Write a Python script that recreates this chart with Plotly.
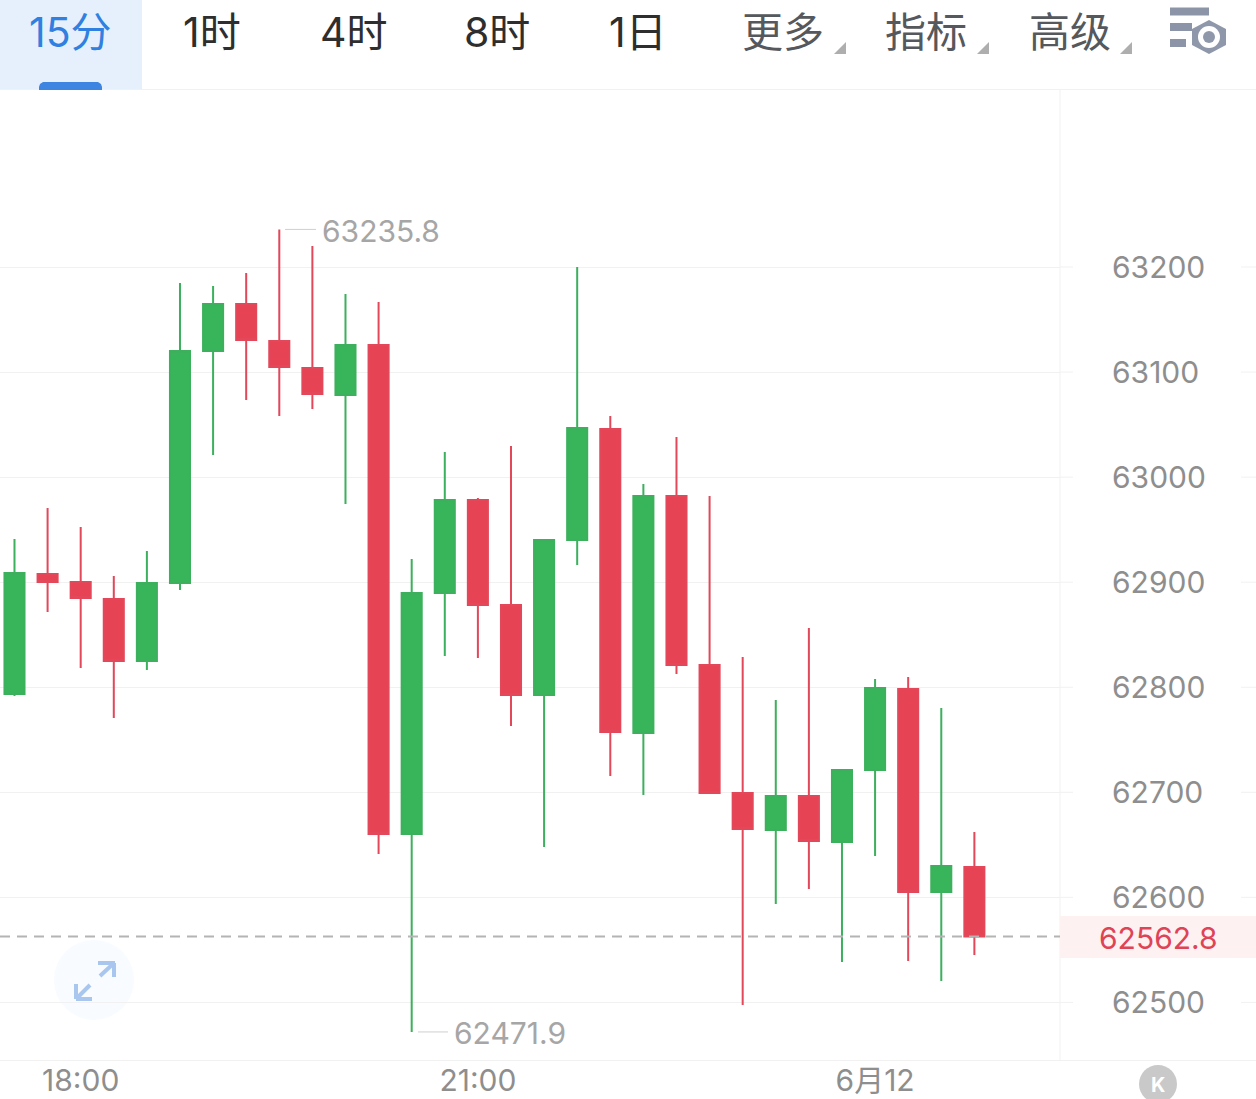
import plotly.graph_objects as go

times = ["2024-06-11 17:30","2024-06-11 17:45","2024-06-11 18:00","2024-06-11 18:15","2024-06-11 18:30","2024-06-11 18:45",
         "2024-06-11 19:00","2024-06-11 19:15","2024-06-11 19:30","2024-06-11 19:45","2024-06-11 20:00","2024-06-11 20:15",
         "2024-06-11 20:30","2024-06-11 20:45","2024-06-11 21:00","2024-06-11 21:15","2024-06-11 21:30","2024-06-11 21:45",
         "2024-06-11 22:00","2024-06-11 22:15","2024-06-11 22:30","2024-06-11 22:45","2024-06-11 23:00","2024-06-11 23:15",
         "2024-06-11 23:30","2024-06-11 23:45","2024-06-12 00:00","2024-06-12 00:15","2024-06-12 00:30","2024-06-12 00:45"]
opens = [62793.6,62907.8,62900.2,62884.0,62825.0,62899.2,63120.0,63164.8,63129.6,63103.9,63078.2,63125.8,
         62660.3,62889.7,62978.2,62878.3,62792.6,62940.2,63045.8,62756.5,62982.0,62821.2,62699.4,62664.2,
         62696.5,62652.7,62721.2,62798.3,62605.1,62628.9]
closes = [62908.7,62900.2,62884.9,62825.0,62899.2,63120.0,63164.8,63130.5,63104.8,63079.1,63125.8,62660.3,
          62889.7,62978.2,62878.3,62792.6,62940.2,63046.8,62757.4,62982.0,62821.2,62699.4,62665.1,62696.5,
          62653.7,62721.2,62799.3,62605.1,62629.9,62562.8]
highs = [62941.1,62970.6,62952.5,62905.9,62929.7,63184.8,63181.9,63194.3,63235.8,63220.0,63174.3,63166.7,
         62922.1,63023.9,62980.1,63029.6,62940.2,63200.0,63058.2,62993.5,63038.2,62982.0,62828.8,62787.9,
         62856.4,62721.2,62807.9,62809.8,62780.3,62662.2]
lows = [62791.7,62871.6,62818.3,62770.7,62816.4,62892.6,63021.1,63073.4,63058.2,63064.8,62974.4,62641.3,
        62471.9,62829.7,62827.9,62763.1,62648.0,62916.4,62715.5,62697.4,62812.6,62698.4,62497.6,62593.7,
        62608.0,62538.5,62639.4,62539.5,62520.4,62545.2]

y_ticks = [62500,62600,62700,62800,62900,63000,63100,63200]
x_tick_vals = ["2024-06-11 18:00","2024-06-11 21:00","2024-06-12 00:00"]
x_tick_text = ["18:00","21:00","6月12"]
last_price = 62562.8
max_price = 63235.8
min_price = 62471.9
tabs = ["1时","4时","8时","1日"]
tab_x = [212,354,497,638]
menus = ["更多","指标","高级"]
menu_x = [783,926,1070]

FONT = "Inter, 'Noto Sans CJK SC', sans-serif"
L, R, T, B = 0, 1060, 90, 1060
W, H = 1256, 1099
def px(x): return (x - L) / (R - L)
def py(y): return (B - y) / (B - T)

shapes = []
def rect(x0, y0, x1, y1, color, layer="below"):
    shapes.append(dict(type="rect", xref="paper", yref="paper", x0=px(x0), x1=px(x1), y0=py(y0), y1=py(y1),
                       fillcolor=color, line=dict(width=0), layer=layer))
def line(x0, y0, x1, y1, color, width=1, layer="below"):
    shapes.append(dict(type="line", xref="paper", yref="paper", x0=px(x0), x1=px(x1), y0=py(y0), y1=py(y1),
                       line=dict(color=color, width=width), layer=layer))
def poly(pts, color, layer="above"):
    d = "M " + " L ".join(f"{px(a):.5f},{py(b):.5f}" for a, b in pts) + " Z"
    shapes.append(dict(type="path", xref="paper", yref="paper", path=d, fillcolor=color, line=dict(width=0), layer=layer))
def circle(cx, cy, r, color, layer="above"):
    shapes.append(dict(type="circle", xref="paper", yref="paper", x0=px(cx-r), x1=px(cx+r), y0=py(cy+r), y1=py(cy-r),
                       fillcolor=color, line=dict(width=0), layer=layer))

rect(0, 0, 142, 90, "#e6f0fd")
poly([(39, 90), (39, 87), (40, 84), (43, 82), (98, 82), (101, 84), (102, 87), (102, 90)], "#3d85e0")
line(0, 89.5, W, 89.5, "#f1f1f1")
line(0, 1060.5, W, 1060.5, "#f1f1f1")
line(1060, 90, 1060, 1060, "#f1f1f1")
rect(1060, 916, W, 958, "#fdf2f1")

for t in y_ticks:
    for a, b in ((1060, 1073), (1241, W)):
        shapes.append(dict(type="line", xref="paper", yref="y", x0=px(a), x1=px(b), y0=t, y1=t,
                           line=dict(color="#f1f1f1", width=1), layer="below"))

shapes.append(dict(type="line", xref="paper", yref="y", x0=0, x1=1, y0=last_price, y1=last_price,
                   line=dict(color="#b4b4b4", width=2, dash="10px,7px"), layer="above"))
shapes.append(dict(type="line", xref="paper", yref="y", x0=px(285), x1=px(316), y0=max_price, y1=max_price,
                   line=dict(color="#cfcfcf", width=1), layer="above"))
shapes.append(dict(type="line", xref="paper", yref="y", x0=px(418), x1=px(448), y0=min_price, y1=min_price,
                   line=dict(color="#cfcfcf", width=1), layer="above"))

for dx in (0, 143, 286):
    poly([(834+dx, 54), (846+dx, 42), (846+dx, 54)], "#aeaeae")

rect(1170, 7.5, 1209, 15.5, "#8c95a7", "above")
rect(1170, 23, 1192, 31, "#8c95a7", "above")
rect(1170, 39, 1186, 47, "#8c95a7", "above")
poly([(1209, 20), (1226, 29), (1226, 45), (1209, 54), (1192, 45), (1192, 29)], "#8f98aa")
circle(1209, 37, 11, "#ffffff")
circle(1209, 37, 6, "#8f98aa")

circle(94, 980, 40, "#f8fbff", "below")
for a in ((100, 976, 114, 963), (98, 963, 115, 963), (114, 963, 114, 977),
          (90, 985, 77, 998), (76, 984, 76, 999), (76, 999, 92, 999)):
    line(*a, "#a9c6ee", 4, "above")

circle(1158, 1084, 19, "#c9c9c9", "above")

ann = []
def text(x, y, s, color, size, anchor="center"):
    ann.append(dict(xref="paper", yref="paper", x=px(x), y=py(y), text=s, showarrow=False, xanchor=anchor,
                    yanchor="middle", font=dict(family=FONT, size=size, color=color)))

text(70, 32, "15分", "#2f80e0", 41)
for s, x in zip(tabs, tab_x):
    text(x, 32, s, "#2e2e2e", 41)
for s, x in zip(menus, menu_x):
    text(x, 32, s, "#55585c", 41)
text(320, 231, f"{max_price}", "#a6a6a6", 30, "left")
text(452, 1033, f"{min_price}", "#a6a6a6", 30, "left")
text(1158, 938, f"{last_price}", "#df4356", 30)
text(1158, 1085, "<b>K</b>", "#ffffff", 20)

fig = go.Figure(go.Candlestick(
    x=times, open=opens, high=highs, low=lows, close=closes,
    increasing=dict(line=dict(color="#3cb05c", width=2), fillcolor="#38b45a"),
    decreasing=dict(line=dict(color="#e2475a", width=2), fillcolor="#e64455"),
    whiskerwidth=0, hoverinfo="skip", showlegend=False,
))
fig.update_layout(
    width=W, height=H, margin=dict(l=L, r=W-R, t=T, b=H-B, pad=0, autoexpand=False),
    paper_bgcolor="#ffffff", plot_bgcolor="#ffffff", boxgap=0.134,
    shapes=shapes, annotations=ann, showlegend=False,
    font=dict(family=FONT),
    xaxis=dict(type="date", range=["2024-06-11 17:23:26", "2024-06-12 01:23:48"], rangeslider=dict(visible=False),
               tickmode="array", tickvals=x_tick_vals, ticktext=x_tick_text, showgrid=False, zeroline=False,
               showline=False, ticks="", tickfont=dict(family=FONT, size=30, color="#8e8e8e"), tickangle=0),
    yaxis=dict(side="right", range=[62445.2, 63368.5], tickmode="array", tickvals=y_ticks, showgrid=True,
               gridcolor="#f1f1f1", gridwidth=1, zeroline=False, showline=False, ticks="",
               ticklabelstandoff=51, tickfont=dict(family=FONT, size=30, color="#8e8e8e"), tickformat="d"),
)
fig.write_html("out.html", config=dict(displayModeBar=False),
               post_script="document.body.style.margin='0';document.body.style.overflow='hidden';")
